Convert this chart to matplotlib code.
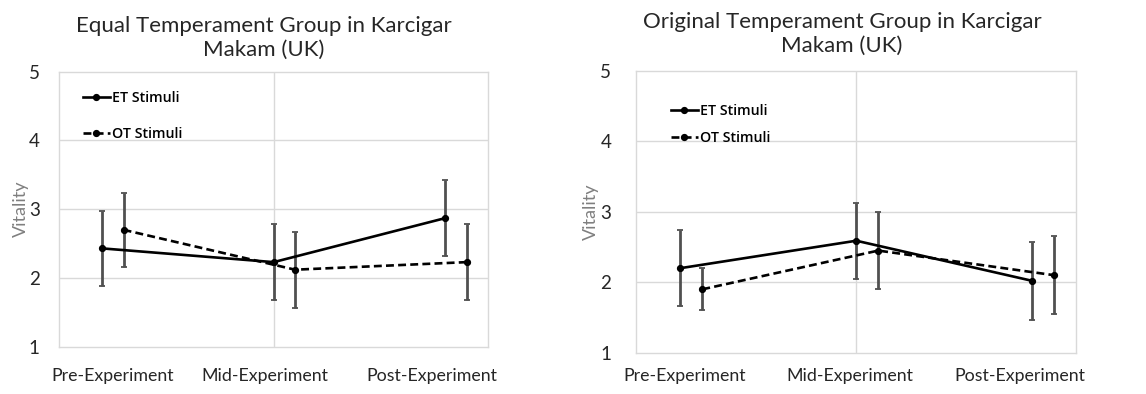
import matplotlib
matplotlib.use("Agg")
import matplotlib.pyplot as plt
import numpy as np

plt.rcParams['font.family'] = ['Lato', 'DejaVu Sans']

categories = ["Pre-Experiment", "Mid-Experiment", "Post-Experiment"]
series_names = ["ET Stimuli", "OT Stimuli"]

# Left panel: Equal Temperament group
eq_et_mean = [2.43, 2.23, 2.87]
eq_et_err = [0.54, 0.55, 0.55]
eq_ot_mean = [2.70, 2.12, 2.23]
eq_ot_err = [0.54, 0.55, 0.55]

# Right panel: Original Temperament group
or_et_mean = [2.20, 2.59, 2.02]
or_et_err = [0.54, 0.54, 0.55]
or_ot_mean = [1.90, 2.45, 2.10]
or_ot_err = [0.30, 0.55, 0.55]

titles = ["Equal Temperament Group in Karcigar\nMakam (UK)",
          "Original Temperament Group in Karcigar\nMakam (UK)"]
ylabel = "Vitality"
yticks = [1, 2, 3, 4, 5]

fig = plt.figure(figsize=(11.46, 3.94), dpi=100)
W, H = 1146, 394

panels = [
    dict(rect=(59.3, 71.7, 488, 346.7), et=(eq_et_mean, eq_et_err), ot=(eq_ot_mean, eq_ot_err),
         title=titles[0], tc=(264, 38), ytpad=14, xtpad=15, ylx=-0.07,
         leg=(85, 91, 1.55), xtick_pos=[0.25, 0.96, 1.74]),
    dict(rect=(636.3, 71.0, 1076.3, 352.7), et=(or_et_mean, or_et_err), ot=(or_ot_mean, or_ot_err),
         title=titles[1], tc=(842, 34), ytpad=18, xtpad=11, ylx=-0.086,
         leg=(673, 104, 0.95), xtick_pos=[0.22, 0.97, 1.745]),
]

grid_c = "#d9d9d9"
err_c = "#505050"
txt_c = "#262626"

for p in panels:
    x0, y0, x1, y1 = p['rect']
    ax = fig.add_axes([x0 / W, 1 - y1 / H, (x1 - x0) / W, (y1 - y0) / H])
    idx = np.arange(len(categories))
    xe = 0.2 + 0.8 * idx
    xo = xe + 0.1
    ax.errorbar(xe, p['et'][0], yerr=p['et'][1], fmt='none', ecolor=err_c,
                elinewidth=2.0, capsize=2, capthick=1.3, zorder=2)
    ax.errorbar(xo, p['ot'][0], yerr=p['ot'][1], fmt='none', ecolor=err_c,
                elinewidth=2.0, capsize=2, capthick=1.3, zorder=2)
    ax.plot(xe, p['et'][0], '-', color='black', lw=1.9, marker='o', ms=4.2,
            label=series_names[0], zorder=3)
    ax.plot(xo, p['ot'][0], '--', color='black', lw=1.9, marker='o', ms=4.2,
            dashes=(3, 1.6), label=series_names[1], zorder=3)
    ax.set_xlim(0, 2)
    ax.set_ylim(1, 5)
    ax.set_yticks(yticks)
    ax.set_yticklabels([str(t) for t in yticks], fontsize=13.5, color=txt_c)
    ax.set_xticks(p['xtick_pos'])
    ax.set_xticklabels(categories, fontsize=12.8, color=txt_c)
    ax.tick_params(axis='both', length=0)
    ax.tick_params(axis='y', pad=p['ytpad'])
    ax.tick_params(axis='x', pad=p['xtpad'])
    for y in [2, 3, 4]:
        ax.axhline(y, color=grid_c, lw=1, zorder=0)
    ax.axvline(1, color=grid_c, lw=1, zorder=0)
    for s in ax.spines.values():
        s.set_color(grid_c)
        s.set_linewidth(1)
    ax.set_ylabel(ylabel, fontsize=13, color='#7f7f7f')
    ax.yaxis.set_label_coords(p['ylx'], 0.5)
    lx, ly, lsp = p['leg']
    ax.legend(loc='upper left',
              bbox_to_anchor=((lx - x0 - 8) / (x1 - x0), 1 - (ly - y0 - 6) / (y1 - y0)),
              frameon=False, handlelength=1.9, handletextpad=0.2,
              labelspacing=lsp, borderaxespad=0,
              prop={'family': ['Open Sans', 'DejaVu Sans'], 'size': 10.2, 'weight': 'semibold'})
    fig.text(p['tc'][0] / W, 1 - p['tc'][1] / H, p['title'], ha='center', va='center',
             fontsize=16, color=txt_c, linespacing=1.25)

fig.savefig("out.png", dpi=100)
